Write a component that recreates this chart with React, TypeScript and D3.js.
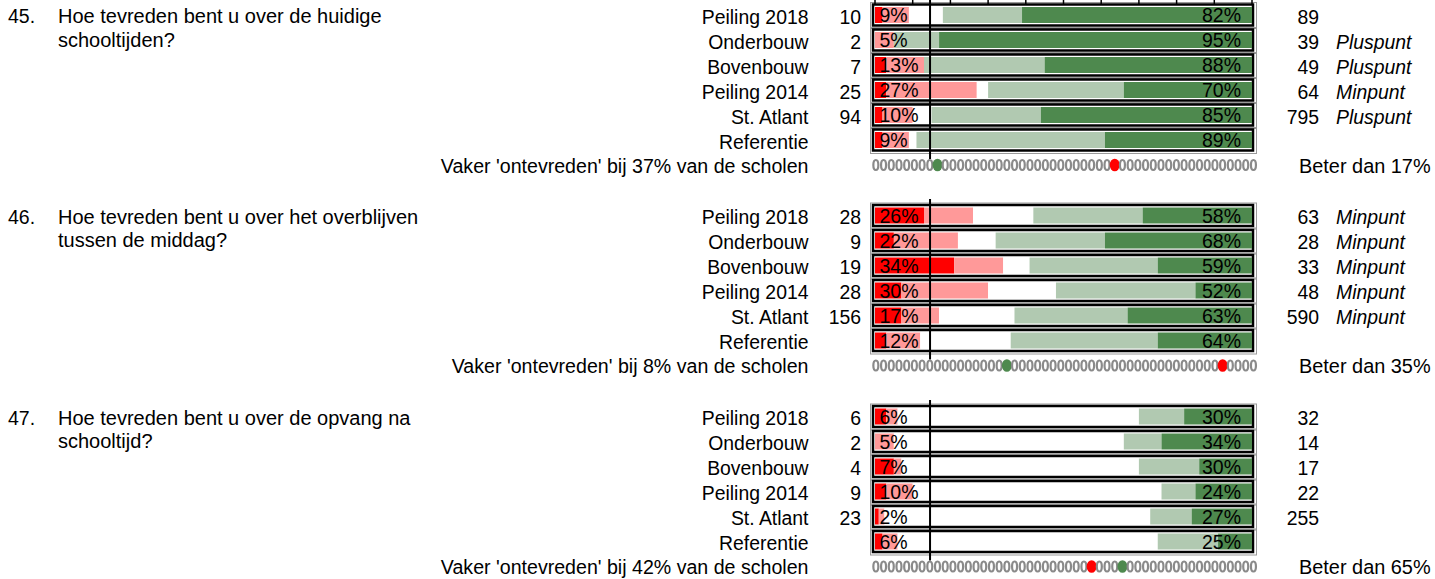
import React from "react";
import * as d3 from "d3";

const rowLabels = ["Peiling 2018", "Onderbouw", "Bovenbouw", "Peiling 2014", "St. Atlant", "Referentie"];
const questionNumbers = ["45.", "46.", "47."];
const questionTexts = [
  ["Hoe tevreden bent u over de huidige", "schooltijden?"],
  ["Hoe tevreden bent u over het overblijven", "tussen de middag?"],
  ["Hoe tevreden bent u over de opvang na", "schooltijd?"],
];
// [zeer ontevreden, ontevreden, neutraal, tevreden, zeer tevreden]
const segments45 = [
  [2, 7, 9, 21, 61],
  [0, 5, 0, 12, 83],
  [3, 10, 0, 32, 55],
  [3, 24, 3, 36, 34],
  [2, 8, 5, 29, 56],
  [2, 7, 2, 50, 39],
];
const segments46 = [
  [13, 13, 16, 29, 29],
  [5, 17, 10, 29, 39],
  [21, 13, 7, 34, 25],
  [7, 23, 18, 37, 15],
  [7, 10, 20, 30, 33],
  [3, 9, 24, 39, 25],
];
const segments47 = [
  [3, 3, 64, 12, 18],
  [0, 5, 61, 10, 24],
  [5, 2, 63, 16, 14],
  [3, 7, 66, 9, 15],
  [1, 1.5, 70.5, 11, 16],
  [2, 4, 69, 16, 9],
];
const dissatisfiedLabels = [
  [9, 5, 13, 27, 10, 9],
  [26, 22, 34, 30, 17, 12],
  [6, 5, 7, 10, 2, 6],
];
const satisfiedLabels = [
  [82, 95, 88, 70, 85, 89],
  [58, 68, 59, 52, 63, 64],
  [30, 34, 30, 24, 27, 25],
];
const leftCounts = [
  ["10", "2", "7", "25", "94", ""],
  ["28", "9", "19", "28", "156", ""],
  ["6", "2", "4", "9", "23", ""],
];
const rightCounts = [
  ["89", "39", "49", "64", "795", ""],
  ["63", "28", "33", "48", "590", ""],
  ["32", "14", "17", "22", "255", ""],
];
const notes = [
  ["", "Pluspunt", "Pluspunt", "Minpunt", "Pluspunt", ""],
  ["Minpunt", "Minpunt", "Minpunt", "Minpunt", "Minpunt", ""],
  ["", "", "", "", "", ""],
];
const schoolPct = [37, 8, 42];
const beterPct = [17, 35, 65];
const markerCount = 50;
const greenMarker = [8, 17, 32];
const redMarker = [31, 45, 28];
const axisCross = 14.6;

const allSegments = [segments45, segments46, segments47];
const segColors = ["#FF0000", "#FF9999", "#FFFFFF", "#B1C9B1", "#4E894E"];
const groupOffsets = [0, 200.5, 401.5];
const FONT = "Arial, 'Liberation Sans', sans-serif";

export default function App() {
  const x = d3.scaleLinear().domain([0, 100]).range([875, 1252]);
  const m = d3.scaleBand<number>().domain(d3.range(markerCount)).range([872, 1257.3]);
  const y = d3.scaleLinear().domain([0, 6]).range([15, 165]);
  const ticks = d3.range(0, 101, 10);

  return (
    <svg
      width={1435}
      height={579}
      style={{ position: "absolute", left: 0, top: 0, background: "#fff" }}
      fontFamily={FONT}
    >
      <rect width={1435} height={579} fill="#fff" />
      {allSegments.map((segs, g) => {
        const off = groupOffsets[g];
        const markY = off + y(6);
        return (
          <g key={g}>
            <text x={8} y={off + 23} fontSize={19.5} fill="#000">{questionNumbers[g]}</text>
            {questionTexts[g].map((t, i) => (
              <text key={i} x={58} y={off + 23 + i * 23.5} fontSize={20} fill="#000">{t}</text>
            ))}
            {segs.map((row, r) => {
              const c = off + y(r);
              const stacked = d3.stack<number[]>().keys(["0", "1", "2", "3", "4"]).value((d, k) => d[+k])([row]);
              return (
                <g key={r}>
                  <text x={808.5} y={c + 8.5} fontSize={19.4} textAnchor="end">{rowLabels[r]}</text>
                  <text x={861} y={c + 8.5} fontSize={19.4} textAnchor="end">{leftCounts[g][r]}</text>
                  <rect x={870.5} y={c - 12.5} width={386} height={26} fill="none" stroke="#9a9a9a" strokeWidth={1} />
                  <rect x={873} y={c - 10.5} width={380} height={21} fill="#fff" stroke="#000" strokeWidth={2.5} />
                  {stacked.map((s, k) => (
                    <rect
                      key={k}
                      x={x(s[0][0])}
                      y={c - 8}
                      width={Math.max(0, x(s[0][1]) - x(s[0][0]))}
                      height={16}
                      fill={segColors[k]}
                    />
                  ))}
                  <text x={879.5} y={c + 7} fontSize={19.5}>{dissatisfiedLabels[g][r] + "%"}</text>
                  <text x={1241} y={c + 7} fontSize={19.5} textAnchor="end">{satisfiedLabels[g][r] + "%"}</text>
                  <text x={1319} y={c + 8.5} fontSize={19.4} textAnchor="end">{rightCounts[g][r]}</text>
                  <text x={1336} y={c + 8.5} fontSize={19.4} fontStyle="italic">{notes[g][r]}</text>
                </g>
              );
            })}
            {g === 0 &&
              ticks.map((t) => (
                <line key={t} x1={x(t)} x2={x(t)} y1={0} y2={off + 4.5} stroke="#000" strokeWidth={1.5} />
              ))}
            <line
              x1={x(axisCross)}
              x2={x(axisCross)}
              y1={off - 1.5}
              y2={off + 159}
              stroke="#000"
              strokeWidth={2}
            />
            <text x={808.5} y={markY + 7.5} fontSize={19.6} textAnchor="end">
              {`Vaker 'ontevreden' bij ${schoolPct[g]}% van de scholen`}
            </text>
            {d3.range(markerCount).map((i) => {
              const cx = (m(i) as number) + m.bandwidth() / 2;
              if (i === greenMarker[g])
                return <ellipse key={i} cx={cx} cy={markY} rx={5} ry={6.3} fill="#4E894E" />;
              if (i === redMarker[g])
                return <ellipse key={i} cx={cx} cy={markY} rx={5} ry={6.3} fill="#FF0000" />;
              return (
                <ellipse key={i} cx={cx} cy={markY} rx={2.5} ry={5} fill="none" stroke="#8a8a8a" strokeWidth={2.2} />
              );
            })}
            <text x={1299} y={markY + 7.5} fontSize={19.9}>{`Beter dan ${beterPct[g]}%`}</text>
          </g>
        );
      })}
    </svg>
  );
}
